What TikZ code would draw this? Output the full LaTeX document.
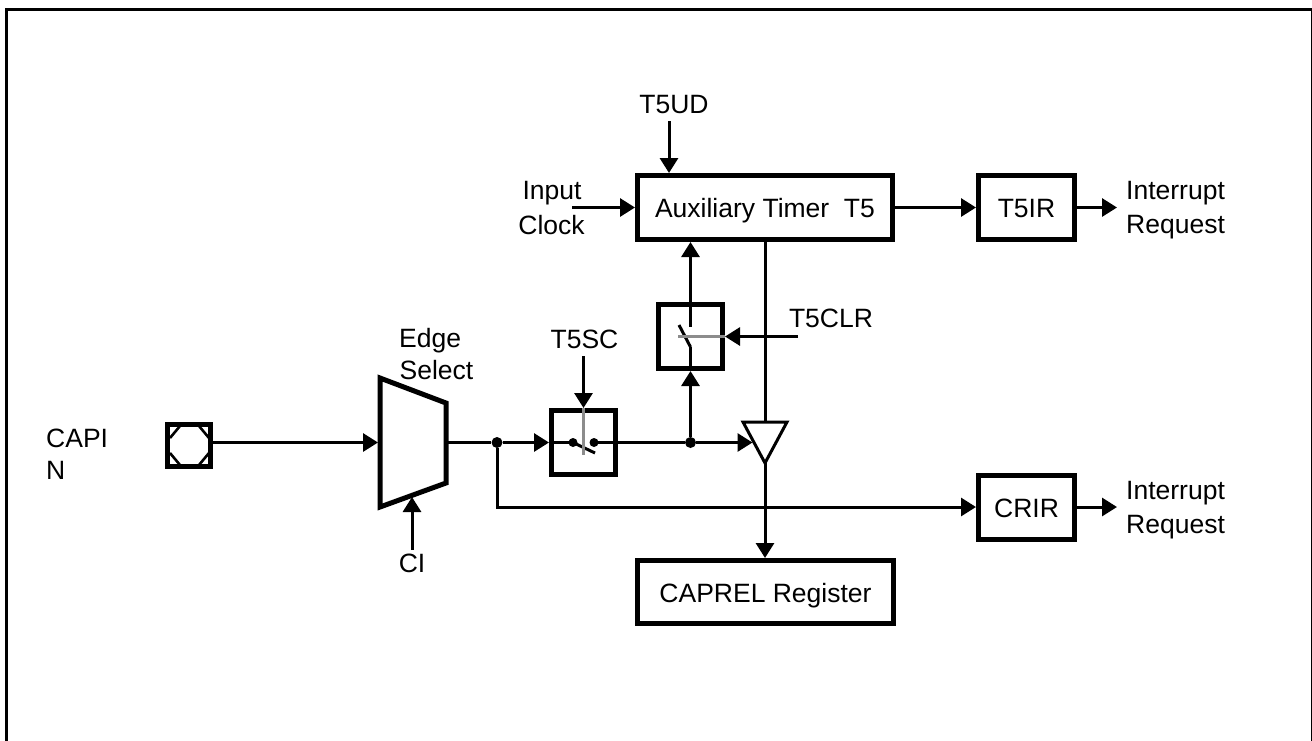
\documentclass[tikz,border=0pt]{standalone}
\usepackage{fontspec}
\setmainfont{Liberation Sans}
\usetikzlibrary{arrows.meta,calc}
\tikzset{
  x=1pt,y=-1pt,
  every node/.style={font=\fontsize{26.5}{30}\selectfont,inner sep=0pt},
  blockbox/.style={draw=black,line width=5pt,minimum width=#1,minimum height=64pt,fill=white,text height=20.5pt,text depth=0pt},
  swbox/.style={draw=black,line width=5pt,minimum width=64pt,minimum height=64pt,fill=white},
  wire/.style={line width=3pt,draw=black},
  arrowwire/.style={wire,-{Triangle[length=15pt,width=18pt]}},
  graywire/.style={line width=3pt,draw=black!45},
  lbl/.style={anchor=base},
  lbw/.style={anchor=base west},
  jdot/.style={circle,fill=black,minimum size=11pt,draw=none},
  sdot/.style={circle,fill=black,minimum size=9pt,draw=none}
}
\begin{document}
\begin{tikzpicture}
\useasboundingbox (0,0) rectangle (1312,740);
% frame
\draw[line width=3pt,black] (6.2,760) -- (6.2,9) -- (1312,9) -- (1312,760);
% labels
\node[lbl] (lud) at (674,113) {T5UD};
\node[lbl] (lin) at (552,199) {Input};
\node[lbl] (lck) at (551.5,234) {Clock};
\node[lbl] (lsc) at (584.5,348) {T5SC};
\node[lbl] (lclr) at (831,327) {T5CLR};
\node[lbw] (led) at (399,347) {Edge};
\node[lbw] (lsl) at (399.5,379) {Select};
\node[lbw] (lca) at (46,447) {CAPI};
\node[lbw] (ln) at (46,479) {N};
\node[lbl] (lci) at (412,572) {CI};
\node[lbw] (ir1a) at (1126,199) {Interrupt};
\node[lbw] (ir1b) at (1126,233) {Request};
\node[lbw] (ir2a) at (1126,499) {Interrupt};
\node[lbw] (ir2b) at (1126,533) {Request};
% free ends and junctions
\coordinate (mw) at (378,442.5);
\coordinate (me) at (447,442.5);
\coordinate (mb) at (412,497);
\coordinate (cudtop) at (669,121);
\coordinate (clkend) at (572,207.5);
\coordinate (ir1end) at (1117,207.5);
\coordinate (ir2end) at (1117,507);
\coordinate (clrend) at (798,336.5);
\coordinate (scend) at (583.5,356);
\coordinate (cibot) at (412,550);
\coordinate (tl) at (743,422);
\coordinate (tr) at (787,422);
\coordinate (tb) at (765,463);
\coordinate (tin) at (752.5,442.5);
% wires under the boxes
\draw[wire] (765,240) -- (765,422);
% blocks
\node[blockbox=255pt] (aux) at (765,207.5) {Auxiliary Timer\ \ T5};
\node[blockbox=96pt] (t5ir) at (1026.5,207.5) {T5IR};
\node[blockbox=96pt] (crir) at (1026.5,507) {CRIR};
\node[blockbox=256pt,minimum height=63pt] (caprel) at (765.5,592) {CAPREL Register};
\node[swbox] (swa) at (583.5,442.5) {};
\node[swbox] (swb) at (690.5,336.5) {};
\node[draw=black,line width=5pt,minimum width=43pt,minimum height=42pt] (pad) at (189,445.5) {};
\node[jdot] (ja) at (497,442.5) {};
\node[jdot] (jb) at (690.5,442.5) {};
% connectors
\draw[arrowwire] (cudtop) -- (cudtop |- aux.north);
\draw[arrowwire] (clkend) -- (aux.west);
\draw[arrowwire] (aux.east) -- (t5ir.west);
\draw[arrowwire] (t5ir.east) -- (ir1end);
\draw[arrowwire] (crir.east) -- (ir2end);
\draw[wire] (me) -- (ja);
\draw[arrowwire] (ja) -- (swa.west);
\draw[arrowwire] (ja) |- (crir.west);
\draw[wire] (swa.east) -- (jb);
\draw[arrowwire] (jb) -- (swb.south);
\draw[arrowwire] (tb) -- (tb |- caprel.north);
\draw[arrowwire] (scend) -- (swa.north);
\draw[arrowwire] (clrend) -- (swb.east);
\draw[arrowwire] (cibot) -- (mb);
% mux
\draw[line width=5pt,black,line join=miter,fill=white] (380,378) -- (446,403) -- (446,483) -- (380,507) -- cycle;
\draw[arrowwire] (pad.east |- mw) -- (mw);
% buffer body
\draw[line width=3pt,black,fill=white,line join=miter] (tl) -- (tr) -- (tb) -- cycle;
\draw[arrowwire] (jb) -- (tin);
% pad octagon
\draw[line width=2.6pt,black] (170,438) -- (180,426) (199,426) -- (209,438) (209,453) -- (199,465) (180,465) -- (170,453);
% switch A
\draw[wire] (swa.west) -- (573,442.5);
\draw[wire] (594,442.5) -- (swa.east);
\node[sdot] (sa1) at (573,442.5) {};
\node[sdot] (sa2) at (594,442.5) {};
\draw[wire] (sa1.center) -- (595,453);
\draw[graywire] (swa.north) -- (583.5,454.5);
% switch B
\draw[wire] (690.5,369) -- (690.5,347);
\draw[wire] (690.5,347) -- (679,325);
\draw[wire] (690.5,306) -- (690.5,327);
\draw[graywire] (678,336.5) -- (swb.east);
\draw[arrowwire] (swb.north -| jb) -- (aux.south -| jb);
\end{tikzpicture}
\end{document}
